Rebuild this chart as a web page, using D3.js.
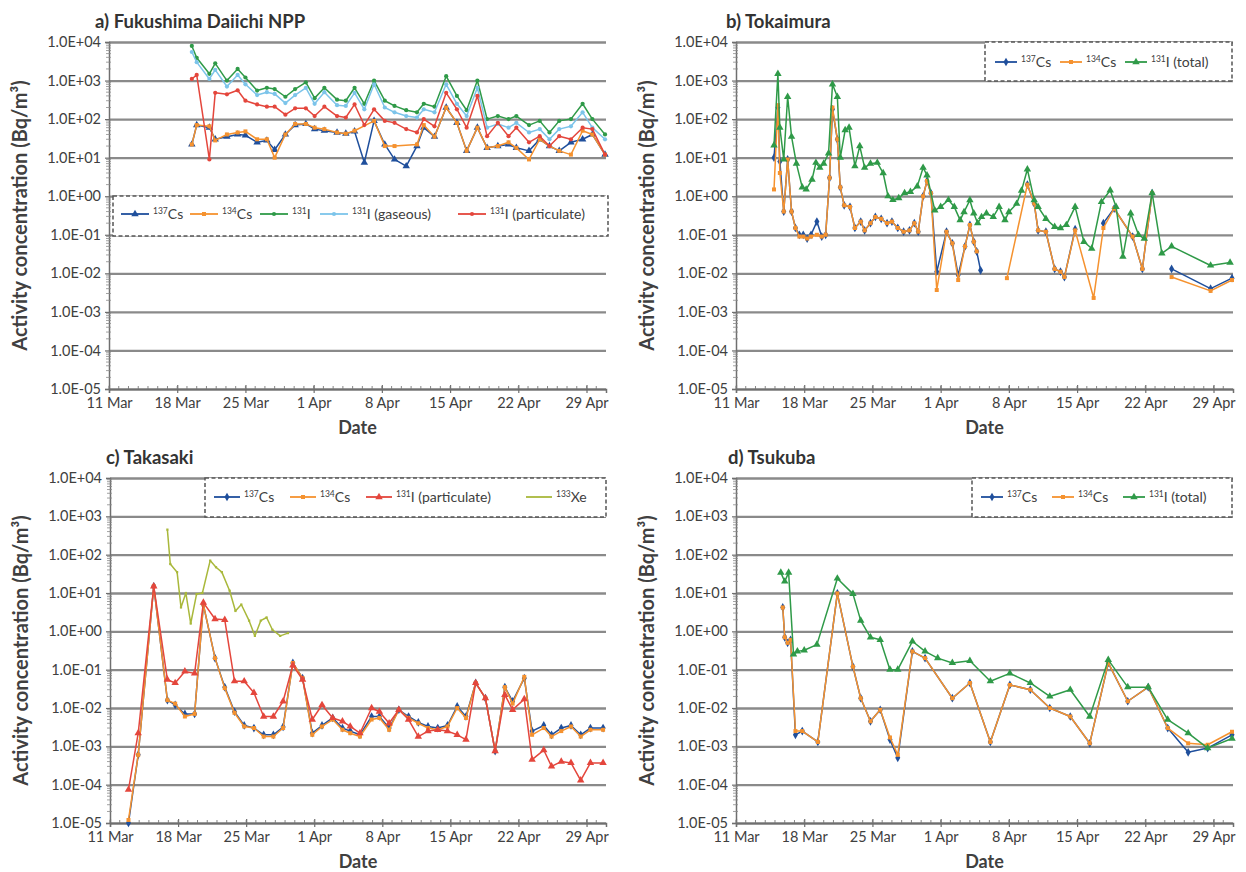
<!DOCTYPE html>
<html><head><meta charset="utf-8">
<script src="https://cdn.jsdelivr.net/npm/d3@7"></script>
<style>
html,body{margin:0;padding:0;background:#fff;}
svg{display:block;font-family:Lato,"Open Sans",sans-serif;}
</style></head><body>
<svg id="chart" width="1246" height="872"></svg>
<script>
// ================= DATA =================
// x values: days since 11 Mar 2011 00:00. Value 0 = line break, null = no point (line continues).
const startDate = "2011-03-11";
const endDate = "2011-05-01";
const xTickDates = ["2011-03-11","2011-03-18","2011-03-25","2011-04-01","2011-04-08","2011-04-15","2011-04-22","2011-04-29"];
const xTickLabels = ["11 Mar","18 Mar","25 Mar","1 Apr","8 Apr","15 Apr","22 Apr","29 Apr"];
const yTickValues = [1e4,1e3,1e2,1e1,1e0,1e-1,1e-2,1e-3,1e-4,1e-5];
const yTickLabels = ["1.0E+04","1.0E+03","1.0E+02","1.0E+01","1.0E+00","1.0E-01","1.0E-02","1.0E-03","1.0E-04","1.0E-05"];
const panelTitles = ["a) Fukushima Daiichi NPP","b) Tokaimura","c) Takasaki","d) Tsukuba"];
const yAxisTitle = "Activity concentration (Bq/m³)";
const xAxisTitle = "Date";

// a) Fukushima Daiichi NPP
const aDays = [8.5,9.0,10.3,10.9,12.1,13.2,14.0,15.2,16.2,17.0,18.1,19.1,20.2,21.1,22.1,23.4,24.3,25.2,26.2,27.2,28.3,29.3,30.5,31.6,32.3,33.4,34.6,35.7,36.7,37.8,38.8,39.9,41.0,41.8,43.1,44.2,45.2,46.2,47.4,48.6,49.6,50.9];
const aCs137 = [22,70,60,30,35,40,38,25,28,16,40,70,75,55,50,45,42,48,7.5,90,22,9,6,20,60,35,200,80,15,60,18,20,22,18,15,30,20,15,25,30,40,12];
const aCs134 = [22,70,65,28,40,45,48,30,30,10,40,75,75,60,55,45,42,50,null,90,20,20,null,22,70,35,200,80,15,60,18,20,25,18,9,30,20,15,12,50,40,12];
const aI131 = [7900,3900,1500,2800,1000,2000,1200,550,650,600,380,600,900,350,650,320,300,650,250,1000,300,220,170,150,250,210,1300,400,170,1000,100,120,100,120,70,90,45,90,100,250,100,40];
const aI131gas = [5500,3000,1100,1900,700,1400,800,420,500,450,260,420,650,250,500,230,220,480,180,800,200,150,120,110,180,150,800,250,120,650,60,75,60,80,45,55,30,55,65,150,60,30];
const aI131part = [1100,1400,9,480,440,560,300,240,210,210,130,190,190,120,210,120,110,240,70,180,90,80,55,45,100,65,480,180,60,400,36,80,36,60,25,36,20,36,30,60,55,12];

// b) Tokaimura
const bCsDays = [3.9,4.3,4.5,4.9,5.3,5.7,6.1,6.5,6.9,7.3,7.7,8.3,8.8,9.2,9.6,9.9,10.4,10.7,11.1,11.7,12.2,12.8,13.2,13.8,14.3,14.9,15.5,16.0,16.6,17.2,17.8,18.3,18.7,19.2,19.6,20.0,20.6,21.6,22.2,22.8,23.5,24.0,24.4,24.7,25.1,27.8,29.9,30.6,31.0,31.8,32.7,33.3,33.7,34.8,36.7,37.7,38.8,40.7,41.7,42.7,43.7,44.7,48.7,50.9];
const bCs137 = [10,200,8,0.4,9,0.4,0.15,0.1,0.1,0.08,0.1,0.22,0.09,0.1,3,180,30,1.7,0.58,0.53,0.15,0.22,0.13,0.2,0.29,0.26,0.2,0.22,0.15,0.12,0.13,0.2,0.12,1.0,2.5,1.2,0.011,0.12,0.06,0.009,0.05,0.18,0.066,0.037,0.012,0,2,0.65,0.13,0.12,0.013,0.011,0.008,0.14,0,0.2,0.48,0.09,0.013,1.2,0,0.013,0.004,0.0075];
const bCs134 = [1.5,230,4,0.4,9,0.4,0.15,0.09,0.09,0.08,0.09,0.1,0.09,0.1,3,200,30,1.7,0.58,0.53,0.15,0.22,0.13,0.2,0.29,0.26,0.2,0.22,0.15,0.12,0.13,0.2,0.12,1.0,2.5,1.2,0.0037,0.12,0.06,0.0067,0.05,0.18,0.066,0.037,0,0.0075,2,0.65,0.13,0.12,0.013,0.011,0.008,0.13,0.0023,0.15,0.48,0.09,0.013,1.2,0,0.008,0.0035,0.0067];
const bI131Days = [3.9,4.3,4.5,4.9,5.3,5.7,6.2,6.8,7.2,7.8,8.2,8.6,9.0,9.5,9.9,10.4,10.7,11.2,11.6,12.2,12.7,13.2,13.8,14.5,15.1,15.6,16.1,16.7,17.3,17.9,18.6,19.2,19.6,20.4,21.0,21.8,22.4,23.0,23.4,24.0,24.4,24.8,25.2,25.7,26.4,27.0,27.6,28.0,28.8,29.3,29.9,30.6,31.0,31.8,32.7,33.3,33.9,34.8,35.7,36.5,37.5,38.4,39.0,39.7,40.5,41.3,41.9,42.7,43.7,44.7,48.7,50.7];
const bI131 = [21,1500,60,9,380,35,7,1.7,1.5,2.7,7.4,5.5,7,13,800,380,10,52,60,6,20,5.5,7,7.4,4,1.0,0.8,0.9,1.2,1.3,1.8,5.5,3.5,0.43,0.53,0.8,0.53,0.24,0.39,0.79,0.36,0.2,0.29,0.36,0.29,0.53,0.24,0.39,0.64,1.4,5,0.79,0.53,0.26,0.16,0.15,0.18,0.53,0.066,0.044,0.71,1.43,0.53,0.027,0.36,0.1,0.08,1.2,0.033,0.05,0.016,0.019];

// c) Takasaki
const cDays = [1.9,2.9,4.5,5.9,6.7,7.7,8.7,9.6,10.8,11.8,12.8,13.8,14.8,15.8,16.8,17.8,18.8,19.8,20.8,21.8,22.9,23.9,24.7,25.7,26.9,27.7,28.7,29.7,30.7,31.7,32.7,33.7,34.7,35.7,36.6,37.6,38.6,39.6,40.6,41.4,42.6,43.4,44.6,45.4,46.4,47.4,48.4,49.4,50.7];
const cCs137 = [1e-5,0.0006,15,0.016,0.012,0.007,0.007,5,0.2,0.035,0.008,0.0035,0.003,0.002,0.002,0.0032,0.15,0.06,0.0022,0.0035,0.0055,0.003,0.0025,0.002,0.006,0.006,0.003,0.009,0.006,0.0042,0.0033,0.003,0.0035,0.011,0.006,0.045,0.018,0.00075,0.035,0.015,0.06,0.0025,0.0035,0.002,0.003,0.0035,0.002,0.003,0.003];
const cCs134 = [1.2e-5,0.0006,15,0.016,0.013,0.006,0.007,5,0.2,0.033,0.0075,0.0033,0.003,0.0018,0.0018,0.003,0.15,0.06,0.002,0.0033,0.005,0.0027,0.0022,0.0018,0.005,0.0055,0.0027,0.009,0.0055,0.004,0.003,0.0027,0.0033,0.01,0.0055,0.045,0.018,0.00075,0.035,0.013,0.065,0.002,0.003,0.0018,0.0025,0.0033,0.0018,0.0027,0.0027];
const cI131part = [7.4e-5,0.0022,15,0.055,0.045,0.09,0.08,5.6,2.1,2.0,0.05,0.05,0.025,0.006,0.006,0.015,0.13,0.055,0.005,0.012,0.0055,0.0045,0.0033,0.0022,0.01,0.008,0.004,0.009,0.005,0.0018,0.0025,0.0027,0.0025,0.002,0.0015,0.045,0.018,0.00075,0.022,0.009,0.017,0.00045,0.0008,0.0003,0.0004,0.00037,0.00013,0.00037,0.00037];
const cXeDays = [5.9,6.2,6.9,7.3,7.8,8.3,8.9,9.5,10.3,10.9,11.5,12.3,12.9,13.5,14.3,14.9,15.5,16.1,16.7,17.5,18.3];
const cXe133 = [450,57,35,4.2,10,1.6,9.4,10,70,47,35,11.5,3.4,5,1.9,0.76,1.9,2.3,1.1,0.76,0.9];

// d) Tsukuba
const dCsDays = [4.8,5.0,5.3,5.6,6.1,6.8,8.4,10.4,12.0,12.8,13.8,14.8,15.8,16.6,18.1,19.4,22.2,24.0,26.1,28.1,30.2,32.2,34.3,36.3,38.2,40.2,42.3,44.3,46.4,48.4,50.9];
const dCs137 = [4.2,0.7,0.5,0.6,0.002,0.0025,0.0013,9.8,0.12,0.018,0.0045,0.009,0.0015,0.0005,0.3,0.2,0.018,0.045,0.0013,0.04,0.03,0.01,0.006,0.0012,0.15,0.015,0.035,0.003,0.0007,0.0009,0.002];
const dCs134 = [4.2,0.7,0.5,0.6,0.0025,0.0025,0.0013,9.8,0.12,0.018,0.0045,0.009,0.0017,0.0006,0.3,0.2,0.018,0.045,0.0013,0.04,0.03,0.01,0.006,0.0012,0.15,0.015,0.035,0.003,0.0012,0.0011,0.0024];
const dI131Days = [4.6,5.0,5.4,5.9,6.3,7.0,8.3,10.4,12.0,12.8,13.8,14.8,15.8,16.6,18.1,19.4,20.7,22.2,24.0,26.1,28.1,30.2,32.2,34.3,36.3,38.2,40.2,42.3,44.3,46.4,48.4,50.9];
const dI131 = [34,20,34,0.25,0.3,0.32,0.45,24,9.5,1.9,0.7,0.6,0.1,0.1,0.55,0.3,0.2,0.15,0.17,0.05,0.08,0.045,0.02,0.03,0.006,0.18,0.035,0.035,0.005,0.0022,0.0009,0.0016];

// ================= STYLES / LAYOUT =================
const C = {cs137:"#1f4f9c", cs134:"#f5922f", i131:"#2f9a48", gas:"#7cc4ea", part:"#e4463c", xe:"#a9b83b"};
const parseDate = d3.timeParse("%Y-%m-%d");
const t0 = parseDate(startDate), t1 = parseDate(endDate);
const toDate = d => new Date(t0.getTime() + d * 864e5);

const S = {
  cs137:  {sup:"137", txt:"Cs", color:C.cs137},
  cs134:  {sup:"134", txt:"Cs", color:C.cs134},
  i131:   {sup:"131", txt:"I", color:C.i131},
  i131t:  {sup:"131", txt:"I (total)", color:C.i131},
  gas:    {sup:"131", txt:"I (gaseous)", color:C.gas},
  part:   {sup:"131", txt:"I (particulate)", color:C.part},
  xe:     {sup:"133", txt:"Xe", color:C.xe}
};

const panels = [
  {title:panelTitles[0], tx:95, ty:28, left:109, right:606, top:42, bottom:389,
   legend:{x0:113, y0:196, x1:608, y1:236, cy:214, len:28, items:[["cs137",121,"triangle"],["cs134",190,"square"],["i131",260,"circle"],["gas",320,"circle"],["part",458,"circle"]]},
   series:[
     {s:"cs137", days:aDays, v:aCs137, m:"triangle"},
     {s:"cs134", days:aDays, v:aCs134, m:"square"},
     {s:"i131", days:aDays, v:aI131, m:"circle"},
     {s:"gas", days:aDays, v:aI131gas, m:"circle"},
     {s:"part", days:aDays, v:aI131part, m:"circle"}]},
  {title:panelTitles[1], tx:726, ty:28, left:736, right:1233, top:42, bottom:389,
   legend:{x0:985, y0:42, x1:1232, y1:81, cy:62, len:22, items:[["cs137",995,"diamond"],["cs134",1060,"square"],["i131t",1125,"triangle"]]},
   series:[
     {s:"cs137", days:bCsDays, v:bCs137, m:"diamond"},
     {s:"cs134", days:bCsDays, v:bCs134, m:"square"},
     {s:"i131t", days:bI131Days, v:bI131, m:"triangle"}]},
  {title:panelTitles[2], tx:106, ty:464, left:110, right:606, top:478, bottom:823,
   legend:{x0:205, y0:478, x1:606, y1:517, cy:497, len:26, items:[["cs137",214,"diamond"],["cs134",290,"square"],["part",366,"triangle"],["xe",526,"none"]]},
   series:[
     {s:"cs137", days:cDays, v:cCs137, m:"diamond"},
     {s:"cs134", days:cDays, v:cCs134, m:"square"},
     {s:"part", days:cDays, v:cI131part, m:"triangle"},
     {s:"xe", days:cXeDays, v:cXe133, m:"dot"}]},
  {title:panelTitles[3], tx:728, ty:464, left:736, right:1233, top:478, bottom:823,
   legend:{x0:972, y0:478, x1:1232, y1:517, cy:497, len:22, items:[["cs137",981,"diamond"],["cs134",1052,"square"],["i131t",1123,"triangle"]]},
   series:[
     {s:"cs137", days:dCsDays, v:dCs137, m:"diamond"},
     {s:"cs134", days:dCsDays, v:dCs134, m:"square"},
     {s:"i131t", days:dI131Days, v:dI131, m:"triangle"}]}
];

const svg = d3.select("#chart");
const TXT = "#404040", GRID = "#8a8a8a";

function symbolPath(m){
  const map = {triangle:[d3.symbolTriangle,24], square:[d3.symbolSquare,16], circle:[d3.symbolCircle,14], diamond:[d3.symbolDiamond,22], dot:[d3.symbolSquare,5]};
  if(!map[m]) return null;
  return d3.symbol().type(map[m][0]).size(map[m][1])();
}

function richText(sel, item, x, y){
  const t = sel.append("text").attr("x",x).attr("y",y).attr("fill",TXT).attr("font-size",14);
  t.append("tspan").attr("font-size",8.5).attr("dy",-5).text(item.sup);
  t.append("tspan").attr("dy",5).text(item.txt);
  return t;
}

panels.forEach(p => {
  const g = svg.append("g");
  const x = d3.scaleTime().domain([t0, t1]).range([p.left, p.right]);
  const y = d3.scaleLog().domain([1e-5, 1e4]).range([p.bottom, p.top]);
  const w = p.right - p.left;

  // gridlines
  g.append("g").attr("transform",`translate(${p.left},0)`)
    .call(d3.axisLeft(y).tickValues(yTickValues).tickSize(-w).tickFormat(""))
    .call(s => { s.select(".domain").remove(); s.selectAll("line").attr("stroke",GRID).attr("stroke-width",2.3); });

  // legend box (white, dashed border)
  const L = p.legend;
  g.append("rect").attr("x",L.x0).attr("y",L.y0).attr("width",L.x1-L.x0).attr("height",L.y1-L.y0)
    .attr("fill","#fff").attr("stroke","#555").attr("stroke-width",1.5).attr("stroke-dasharray","4,2.5");

  // y axis with labels
  const ya = g.append("g").attr("transform",`translate(${p.left},0)`)
    .call(d3.axisLeft(y).tickValues(yTickValues).tickFormat((d,i)=>yTickLabels[i]).tickSize(4).tickPadding(4));
  ya.select(".domain").attr("stroke","#6f6f6f").attr("stroke-width",1.5);
  ya.selectAll(".tick line").attr("stroke","#6f6f6f").attr("stroke-width",1.2);
  ya.selectAll("text").attr("font-size",14.5).attr("fill",TXT).attr("font-family","Lato, sans-serif");
  // minor log ticks
  const minors = [];
  for(let e=-5;e<4;e++) for(let k=2;k<10;k++) minors.push(k*Math.pow(10,e));
  g.append("g").selectAll("line").data(minors).join("line")
    .attr("x1",p.left-3).attr("x2",p.left+2).attr("y1",d=>y(d)).attr("y2",d=>y(d))
    .attr("stroke","#8a8a8a").attr("stroke-width",0.8);

  // x axis
  const xt = xTickDates.map(parseDate);
  const xa = g.append("g").attr("transform",`translate(0,${p.bottom})`)
    .call(d3.axisBottom(x).tickValues(xt).tickFormat((d,i)=>xTickLabels[i]).tickSize(4).tickPadding(5));
  xa.select(".domain").attr("stroke","#6f6f6f").attr("stroke-width",1.5);
  xa.selectAll(".tick line").attr("stroke","#6f6f6f").attr("stroke-width",1.2).attr("y1",-4);
  xa.selectAll("text").attr("font-size",14.5).attr("fill",TXT).attr("font-family","Lato, sans-serif");
  g.append("g").selectAll("line").data(d3.timeDay.range(t0, t1)).join("line")
    .attr("x1",d=>x(d)).attr("x2",d=>x(d)).attr("y1",p.bottom-3).attr("y2",p.bottom)
    .attr("stroke","#7a7a7a").attr("stroke-width",0.9);

  // titles
  g.append("text").attr("x",p.tx).attr("y",p.ty).attr("font-size",18.5).attr("font-weight","bold").attr("fill","#333").text(p.title);
  g.append("text").attr("transform",`translate(${p.left-82},${(p.top+p.bottom)/2}) rotate(-90)`)
    .attr("text-anchor","middle").attr("font-size",20).attr("font-weight","bold").attr("fill",TXT).text(yAxisTitle);
  g.append("text").attr("x",(p.left+p.right)/2).attr("y",p.bottom+45).attr("text-anchor","middle")
    .attr("font-size",18).attr("font-weight","bold").attr("fill",TXT).text(xAxisTitle);

  // series
  p.series.forEach(sr => {
    const st = S[sr.s];
    const pts = sr.days.map((d,i)=>({t:toDate(d), v:sr.v[i]})).filter(d => d.v !== null);
    const line = d3.line().defined(d => d.v > 0).x(d => x(d.t)).y(d => y(d.v));
    g.append("path").datum(pts).attr("d",line).attr("fill","none").attr("stroke",st.color).attr("stroke-width",1.5).attr("stroke-linejoin","round");
    const sp = symbolPath(sr.m);
    if(sp) g.append("g").selectAll("path").data(pts.filter(d=>d.v>0)).join("path")
      .attr("transform",d=>`translate(${x(d.t)},${y(d.v)})`).attr("d",sp).attr("fill",st.color);
  });

  // legend items
  L.items.forEach(([key, lx, m]) => {
    const st = S[key];
    g.append("line").attr("x1",lx).attr("x2",lx+L.len).attr("y1",L.cy).attr("y2",L.cy).attr("stroke",st.color).attr("stroke-width",1.8);
    const sp = symbolPath(m);
    if(sp) g.append("path").attr("transform",`translate(${lx+L.len/2},${L.cy})`).attr("d",sp).attr("fill",st.color);
    richText(g, st, lx+L.len+4, L.cy+5);
  });
});
</script>
</body></html>
